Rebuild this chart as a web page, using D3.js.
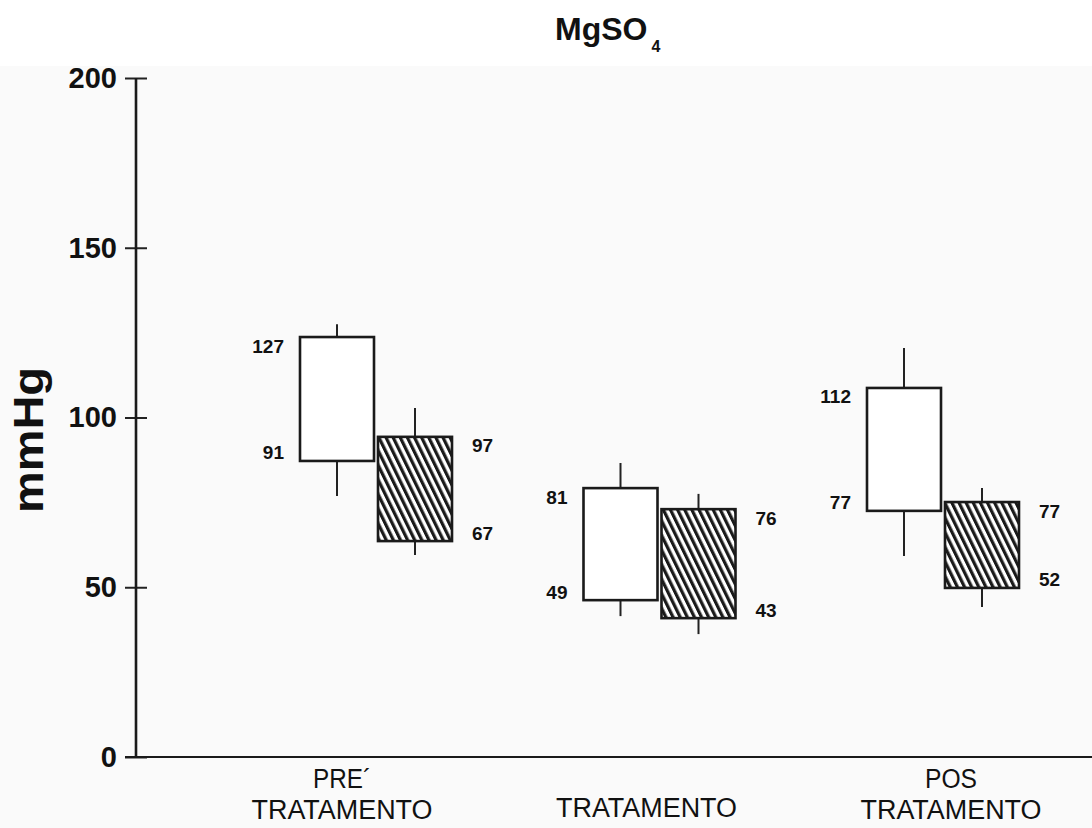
<!DOCTYPE html>
<html>
<head>
<meta charset="utf-8">
<script src="https://cdn.jsdelivr.net/npm/d3@7"></script>
<style>
  body { margin: 0; background: #fff; }
  svg { display: block; }
  .b { font-family: "Liberation Sans", Arial, sans-serif; font-weight: bold; fill: #111; }
  .n { font-family: "Liberation Sans", Arial, sans-serif; font-weight: normal; fill: #111; }
</style>
</head>
<body>
<div id="chart"></div>
<script>
// groups on the x axis
const categories = ["PRE", "TRAT", "POS"];
const catLines = [["PRE\u00B4", "TRATAMENTO"], ["TRATAMENTO"], ["POS", "TRATAMENTO"]];

// open (white) boxes : box top / bottom, whisker high / low  (mmHg)
const openTop = [123.7, 79.2, 108.7];
const openBottom = [87.2, 46.2, 72.5];
const openHi = [127.5, 86.6, 120.5];
const openLo = [76.9, 41.5, 59.2];
const openTopLabel = ["127", "81", "112"];
const openBottomLabel = ["91", "49", "77"];

// hatched boxes
const hatchTop = [94.3, 73.0, 75.1];
const hatchBottom = [63.6, 40.9, 49.8];
const hatchHi = [102.8, 77.5, 79.2];
const hatchLo = [59.5, 36.2, 44.2];
const hatchTopLabel = ["97", "76", "77"];
const hatchBottomLabel = ["67", "43", "52"];

const yTicks = [0, 50, 100, 150, 200];

const width = 1092, height = 828;
const boxW = 74, gap = 4;

const svg = d3.select("#chart")
  .append("svg")
  .attr("width", width)
  .attr("height", height);

// faint paper tone below the title
svg.append("rect")
  .attr("x", 0).attr("y", 66)
  .attr("width", width).attr("height", height - 66)
  .style("fill", "#fafafa");

const y = d3.scaleLinear().domain([0, 200]).range([757, 78]);
const x = d3.scalePoint().domain(categories).range([376, 943]);
const xLabel = d3.scalePoint().domain(categories).range([342, 951]);

// hatch pattern
const defs = svg.append("defs");
const pat = defs.append("pattern")
  .attr("id", "hatch")
  .attr("patternUnits", "userSpaceOnUse")
  .attr("width", 6.4).attr("height", 10)
  .attr("patternTransform", "rotate(-26)");
pat.append("rect").attr("width", 6.4).attr("height", 10).style("fill", "#fff");
pat.append("rect").attr("x", 0).attr("width", 3.2).attr("height", 10).style("fill", "#1a1a1a");

// y axis
const yAxis = d3.axisLeft(y).tickValues(yTicks).tickSize(11).tickPadding(8).tickFormat(d3.format("d"));
const ya = svg.append("g")
  .attr("transform", "translate(136,0)")
  .call(yAxis);
ya.select(".domain").remove();
ya.selectAll(".tick line")
  .attr("x1", 11)
  .style("stroke", "#222").style("stroke-width", 2);
ya.selectAll(".tick text")
  .attr("class", "b")
  .attr("x", -19)
  .style("font-size", "29px");

svg.append("line")
  .attr("x1", 136).attr("x2", 136)
  .attr("y1", y(200)).attr("y2", y(0))
  .style("stroke", "#1a1a1a").style("stroke-width", 2.6);

// x axis line
svg.append("line")
  .attr("x1", 125).attr("x2", width)
  .attr("y1", y(0)).attr("y2", y(0))
  .style("stroke", "#1a1a1a").style("stroke-width", 2.2);

// title
const title = svg.append("text")
  .attr("class", "b")
  .attr("x", 555).attr("y", 40)
  .style("font-size", "32px");
title.append("tspan").text("MgSO");
title.append("tspan").attr("dy", 12).attr("dx", 4).style("font-size", "16px").text("4");

// y label
svg.append("text")
  .attr("class", "b")
  .attr("transform", "translate(43,440) rotate(-90)")
  .attr("text-anchor", "middle")
  .attr("textLength", 146)
  .attr("lengthAdjust", "spacingAndGlyphs")
  .style("font-size", "42px")
  .text("mmHg");

// one box with whiskers + its two labels
function drawBox(x0, top, bottom, hi, lo, topLab, botLab, fill, side) {
  const cx = x0 + boxW / 2;
  const g = svg.append("g");
  g.append("line")
    .attr("x1", cx).attr("x2", cx)
    .attr("y1", y(hi)).attr("y2", y(top))
    .style("stroke", "#222").style("stroke-width", 2);
  g.append("line")
    .attr("x1", cx).attr("x2", cx)
    .attr("y1", y(bottom)).attr("y2", y(lo))
    .style("stroke", "#222").style("stroke-width", 2);
  g.append("rect")
    .attr("x", x0).attr("y", y(top))
    .attr("width", boxW).attr("height", y(bottom) - y(top))
    .style("fill", fill)
    .style("stroke", "#1a1a1a").style("stroke-width", 2.6);

  const lx = side < 0 ? x0 - 16 : x0 + boxW + 20;
  const anchor = side < 0 ? "end" : "start";
  g.append("text").attr("class", "b")
    .attr("x", lx).attr("y", y(top) + 9)
    .attr("text-anchor", anchor).attr("dominant-baseline", "central")
    .style("font-size", "19px").text(topLab);
  g.append("text").attr("class", "b")
    .attr("x", lx).attr("y", y(bottom) - 8)
    .attr("text-anchor", anchor).attr("dominant-baseline", "central")
    .style("font-size", "19px").text(botLab);
}

categories.forEach((c, i) => {
  const cx = x(c);
  drawBox(cx - gap / 2 - boxW, openTop[i], openBottom[i], openHi[i], openLo[i],
    openTopLabel[i], openBottomLabel[i], "#fff", -1);
  drawBox(cx + gap / 2, hatchTop[i], hatchBottom[i], hatchHi[i], hatchLo[i],
    hatchTopLabel[i], hatchBottomLabel[i], "url(#hatch)", 1);

  // category labels
  const lines = catLines[i];
  const base = lines.length > 1 ? [788, 819] : [817];
  lines.forEach((t, k) => {
    const tx = svg.append("text").attr("class", "n")
      .attr("x", xLabel(c)).attr("y", base[k])
      .attr("text-anchor", "middle")
      .style("font-size", "27px")
      .text(t);
    if (t === "TRATAMENTO") tx.attr("textLength", 181).attr("lengthAdjust", "spacingAndGlyphs");
    else tx.attr("textLength", t.length > 3 ? 58 : 52).attr("lengthAdjust", "spacingAndGlyphs");
  });
});
</script>
</body>
</html>
